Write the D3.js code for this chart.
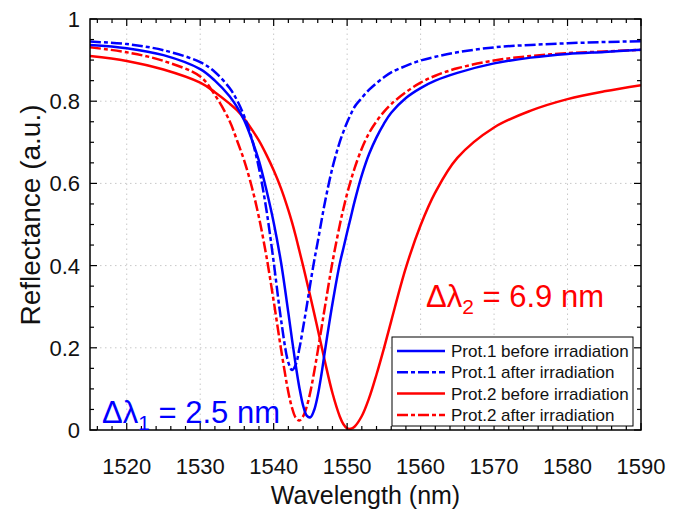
<!DOCTYPE html>
<html>
<head>
<meta charset="utf-8">
<script src="https://cdn.jsdelivr.net/npm/d3@7"></script>
<style>
  body { margin: 0; background: #fff; }
  svg { font-family: "Liberation Sans", Arial, sans-serif; }
</style>
</head>
<body>
<div id="chart"></div>
<script>
// wavelength grid (nm) and reflectance
var wl = [1515, 1520, 1525, 1530, 1532, 1534, 1535, 1536, 1537, 1538, 1539, 1540, 1541, 1542, 1542.5,
  1543, 1543.5, 1544, 1544.5, 1545, 1545.5, 1546, 1546.5, 1547, 1548, 1549, 1549.5, 1550, 1550.5, 1551,
  1552, 1553, 1554, 1555, 1556, 1558, 1560, 1562, 1565, 1570, 1575, 1580, 1585, 1590];

var p1Before = [.937, .929, .912, .878, .850, .812, .786, .753, .708, .655, .585, .505, .408, .285, .220,
  .158, .103, .060, .035, .031, .048, .084, .135, .195, .307, .405, .443, .481, .518, .555,
  .620, .672, .712, .745, .772, .808, .832, .850, .869, .892, .906, .915, .920, .925];

var p1After = [.945, .939, .924, .895, .871, .832, .803, .763, .710, .637, .537, .409, .269, .164, .146,
  .159, .198, .248, .301, .357, .410, .458, .508, .556, .638, .701, .726, .749, .768, .786,
  .808, .828, .844, .858, .870, .886, .899, .908, .919, .931, .937, .941, .944, .946];

var p2Before = [.910, .898, .877, .845, .822, .794, .778, .757, .732, .704, .670, .632, .588, .535, .505,
  .472, .436, .400, .362, .324, .285, .245, .205, .165, .090, .033, .014, .004, .003, .008,
  .034, .078, .135, .198, .265, .395, .498, .578, .662, .736, .777, .805, .824, .839];

var p2After = [.931, .919, .898, .860, .815, .752, .705, .655, .593, .517, .424, .314, .197, .092, .054,
  .030, .023, .033, .057, .093, .140, .192, .247, .302, .408, .499, .539, .575, .607, .636,
  .685, .723, .751, .774, .793, .822, .845, .862, .880, .899, .910, .917, .921, .925];

var seriesNames = ["Prot.1 before irradiation", "Prot.1 after irradiation",
  "Prot.2 before irradiation", "Prot.2 after irradiation"];
var xTicks = [1520, 1530, 1540, 1550, 1560, 1570, 1580, 1590];
var yTicks = [0, 0.2, 0.4, 0.6, 0.8, 1];

var width = 683, height = 511;
var margin = {left: 90, right: 42, top: 19, bottom: 81};

var svg = d3.select("#chart").append("svg")
  .attr("width", width)
  .attr("height", height);

var x = d3.scaleLinear().domain([1515, 1590]).range([margin.left, width - margin.right]);
var y = d3.scaleLinear().domain([0, 1]).range([height - margin.bottom, margin.top]);

var x0 = x.range()[0], x1 = x.range()[1], y0 = y.range()[0], y1 = y.range()[1];

// dotted grid
var grid = svg.append("g").attr("stroke", "#c8c8c8").attr("stroke-width", 1)
  .attr("stroke-dasharray", "1.5,3.5");
grid.selectAll(".gx").data(xTicks.filter(d => d < 1590)).enter().append("line")
  .attr("x1", d => x(d)).attr("x2", d => x(d)).attr("y1", y0).attr("y2", y1);
grid.selectAll(".gy").data(yTicks.filter(d => d > 0 && d < 1)).enter().append("line")
  .attr("x1", x0).attr("x2", x1).attr("y1", d => y(d)).attr("y2", d => y(d));

// curves
svg.append("clipPath").attr("id", "clip").append("rect")
  .attr("x", x0).attr("y", y1).attr("width", x1 - x0).attr("height", y0 - y1);

var series = [
  {name: seriesNames[0], vals: p1Before, color: "#0000ff", dash: null},
  {name: seriesNames[1], vals: p1After, color: "#0000ff", dash: "11,3,4,3"},
  {name: seriesNames[2], vals: p2Before, color: "#ff0000", dash: null},
  {name: seriesNames[3], vals: p2After, color: "#ff0000", dash: "11,3,4,3"}
];

var line = d3.line()
  .x((d, i) => x(wl[i]))
  .y(d => y(d))
  .curve(d3.curveCatmullRom.alpha(0.5));

svg.append("g").attr("clip-path", "url(#clip)")
  .selectAll("path").data(series.slice().reverse()).enter().append("path")
  .attr("d", d => line(d.vals))
  .attr("fill", "none")
  .attr("stroke", d => d.color)
  .attr("stroke-width", 2.5)
  .attr("stroke-dasharray", d => d.dash);

// axes with inward ticks on all four sides
var xMinor = d3.range(1516, 1590, 2).filter(d => xTicks.indexOf(d) < 0);
var yMinor = d3.range(0.05, 1, 0.05).filter(d => Math.abs(d * 5 - Math.round(d * 5)) > 1e-6);

function ticks(g, vals, len, horiz, atEnd) {
  g.selectAll(null).data(vals).enter().append("line")
    .attr("x1", d => horiz ? x(d) : (atEnd ? x1 : x0))
    .attr("x2", d => horiz ? x(d) : (atEnd ? x1 - len : x0 + len))
    .attr("y1", d => horiz ? (atEnd ? y1 : y0) : y(d))
    .attr("y2", d => horiz ? (atEnd ? y1 + len : y0 - len) : y(d));
}
var tg = svg.append("g").attr("stroke", "#000").attr("stroke-width", 1.2);
ticks(tg, xTicks, 7, true, false);
ticks(tg, xTicks, 7, true, true);
ticks(tg, xMinor, 4, true, false);
ticks(tg, xMinor, 4, true, true);
ticks(tg, yTicks, 7, false, false);
ticks(tg, yTicks, 7, false, true);
ticks(tg, yMinor, 4, false, false);
ticks(tg, yMinor, 4, false, true);

svg.append("rect")
  .attr("x", x0).attr("y", y1).attr("width", x1 - x0).attr("height", y0 - y1)
  .attr("fill", "none").attr("stroke", "#000").attr("stroke-width", 1.5);

// tick labels
svg.append("g").selectAll("text").data(xTicks).enter().append("text")
  .attr("x", d => x(d)).attr("y", y0 + 44)
  .attr("text-anchor", "middle").attr("font-size", 22).attr("fill", "#111")
  .text(d => d);

svg.append("g").selectAll("text").data(yTicks).enter().append("text")
  .attr("x", x0 - 10).attr("y", d => y(d) + 8)
  .attr("text-anchor", "end").attr("font-size", 22).attr("fill", "#111")
  .text(d => (d === 0 || d === 1) ? d : d.toFixed(1));

// axis titles
svg.append("text")
  .attr("x", (x0 + x1) / 2).attr("y", 504)
  .attr("text-anchor", "middle").attr("font-size", 25).attr("fill", "#111")
  .text("Wavelength (nm)");

svg.append("text")
  .attr("transform", "translate(40," + 215 + ") rotate(-90)")
  .attr("text-anchor", "middle").attr("font-size", 28).attr("fill", "#111")
  .text("Reflectance (a.u.)");

// shift annotations
function shiftLabel(px, py, color, sub, rest) {
  var t = svg.append("text").attr("x", px).attr("y", py)
    .attr("font-size", 31).attr("fill", color);
  t.append("tspan").text("\u0394\u03bb");
  t.append("tspan").attr("font-size", 21).attr("dy", 7).text(sub);
  t.append("tspan").attr("dy", -7).text(" = " + rest);
}
shiftLabel(102, 423, "#0000ff", "1", "2.5 nm");
shiftLabel(426, 307, "#ff0000", "2", "6.9 nm");

// legend
var lg = svg.append("g");
lg.append("rect").attr("x", 392).attr("y", 337).attr("width", 241).attr("height", 89)
  .attr("fill", "#fff").attr("stroke", "#000").attr("stroke-width", 1);
var rows = lg.selectAll(".row").data(series).enter().append("g")
  .attr("transform", (d, i) => "translate(397," + (351 + i * 21.3) + ")");
rows.append("line").attr("x1", 0).attr("x2", 48).attr("y1", 0).attr("y2", 0)
  .attr("stroke", d => d.color).attr("stroke-width", 2.5)
  .attr("stroke-dasharray", d => d.dash);
rows.append("text").attr("x", 54).attr("y", 6).attr("font-size", 17).attr("fill", "#111")
  .text(d => d.name);
</script>
</body>
</html>
